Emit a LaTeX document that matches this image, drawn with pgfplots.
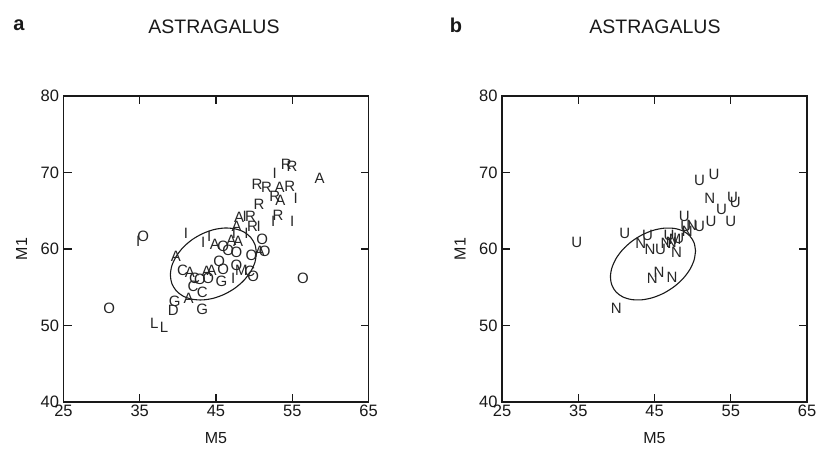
\documentclass[border=0pt]{standalone}
\usepackage{pgfplots}
\pgfplotsset{compat=1.18}
\usepackage{pgfplotstable}
\usepackage{fontspec}
\setmainfont{Liberation Sans}

\pgfplotstableread{
x y label
54.23 71.11 R
54.98 70.76 R
52.71 69.89 I
58.60 69.24 A
50.39 68.45 R
51.62 68.06 R
53.36 68.06 A
54.67 68.15 R
55.46 66.62 I
52.71 66.84 R
53.45 66.41 A
50.66 65.88 R
53.14 64.44 R
52.49 63.57 I
54.98 63.57 I
48.03 64.14 A
48.78 64.23 I
49.52 64.31 R
47.69 63.00 A
49.78 62.92 R
50.61 62.92 I
51.05 61.31 O
41.05 62.05 I
35.46 61.61 O
34.80 60.96 I
43.32 60.83 I
44.10 61.60 I
44.85 60.65 A
39.74 59.00 A
40.60 57.25 C
41.57 56.90 A
42.20 56.20 C
42.00 55.10 C
43.20 54.40 C
41.40 53.55 A
39.60 53.10 G
39.40 52.00 D
43.20 52.10 G
36.90 50.30 L
38.20 49.80 L
31.00 52.25 O
56.42 56.17 O
43.76 57.04 A
44.41 57.25 A
42.90 56.00 O
43.97 56.17 O
45.72 55.73 G
45.41 58.34 O
45.94 57.39 O
47.69 57.91 O
47.25 56.17 I
48.34 57.25 M
49.43 57.04 C
49.87 56.47 O
45.94 60.39 O
46.59 59.78 O
47.69 59.52 O
47.03 61.18 A
47.90 60.96 A
47.34 62.05 I
49.65 59.22 O
50.74 59.65 A
51.40 59.65 O
49.00 62.05 I
}\dataA

\pgfplotstableread{
x y label
34.80 60.80 U
41.10 62.00 U
44.10 61.80 U
43.20 60.70 N
44.40 59.90 N
45.80 59.90 U
46.50 60.70 N
46.90 61.80 U
47.20 60.90 N
47.70 61.20 M
48.20 61.40 U
47.90 59.60 N
44.70 56.20 N
45.60 57.00 N
47.30 56.30 N
40.00 52.25 N
48.90 64.20 U
49.10 62.90 U
49.90 63.10 N
49.30 62.30 N
50.90 62.90 U
52.40 63.60 U
55.00 63.60 U
53.80 65.20 U
52.25 66.60 N
55.25 66.80 U
55.60 66.05 U
50.90 69.00 U
52.80 69.70 U
}\dataB

\pgfplotsset{
  panel/.style={
    scale only axis, width=305pt, height=306pt,
    xmin=25, xmax=65, ymin=40, ymax=80,
    xtick={25,35,45,55,65}, ytick={40,50,60,70,80},
    tick align=inside, major tick length=8pt,
    axis line style={black!90, line width=1.1pt},
    every tick/.style={black!90, line width=1.1pt},
    tick label style={font=\fontsize{16.5}{16.5}\selectfont, text=black!90},
    /pgf/number format/assume math mode=true,
    xticklabel style={anchor=center, yshift=-9pt},
    yticklabel style={xshift=-1pt},
    xlabel={M5}, ylabel={M1},
    every axis x label/.style={at={(axis description cs:0.5,0)}, yshift=-36pt, anchor=center, font=\fontsize{16}{16}\selectfont, text=black!90},
    every axis y label/.style={at={(axis description cs:0,0.5)}, xshift=-42pt, rotate=90, anchor=center, font=\fontsize{16}{16}\selectfont, text=black!90},
    clip=false,
  },
  letters/.style={only marks, mark=none,
    nodes near coords, point meta=explicit symbolic,
    every node near coord/.append style={anchor=center, inner sep=0pt, font=\fontsize{15}{15}\selectfont, text=black!85}},
}

\begin{document}
\begin{tikzpicture}[x=1pt,y=1pt]
\path (0,0) rectangle (829,449);
\node[font=\fontsize{20}{20}\selectfont\bfseries, text=black!90] at (19,424) {a};
\node[font=\fontsize{19.5}{19.5}\selectfont, text=black!90] at (214,422) {ASTRAGALUS};
\node[font=\fontsize{20}{20}\selectfont\bfseries, text=black!90] at (456,424) {b};
\node[font=\fontsize{19.5}{19.5}\selectfont, text=black!90] at (655,422) {ASTRAGALUS};

\begin{axis}[panel, at={(63.5pt,47pt)}, anchor=south west]
\addplot[letters] table[x=x, y=y, meta=label] {\dataA};
\addplot[black!90, line width=1.1pt, smooth, mark=none] coordinates {
(50.30,59.48) (50.11,60.59) (49.54,61.53) (48.65,62.23) (47.48,62.64) (46.12,62.74)
(44.66,62.52) (43.20,61.99) (41.84,61.20) (40.67,60.19) (39.78,59.03) (39.21,57.81)
(39.02,56.60) (39.21,55.49) (39.78,54.55) (40.67,53.85) (41.84,53.44) (43.20,53.34)
(44.66,53.56) (46.12,54.09) (47.48,54.88) (48.65,55.89) (49.54,57.05) (50.11,58.27)
(50.30,59.48)};
\end{axis}

\begin{axis}[panel, at={(502pt,47pt)}, anchor=south west]
\addplot[letters] table[x=x, y=y, meta=label] {\dataB};
\addplot[black!90, line width=1.1pt, smooth, mark=none] coordinates {
(50.38,59.74) (50.19,60.82) (49.63,61.71) (48.75,62.35) (47.59,62.69) (46.24,62.72)
(44.80,62.43) (43.36,61.84) (42.01,60.99) (40.85,59.94) (39.97,58.77) (39.41,57.53)
(39.22,56.34) (39.41,55.26) (39.97,54.37) (40.85,53.73) (42.01,53.39) (43.36,53.36)
(44.80,53.65) (46.24,54.24) (47.59,55.09) (48.75,56.14) (49.63,57.31) (50.19,58.55)
(50.38,59.74)};
\end{axis}
\end{tikzpicture}
\end{document}
